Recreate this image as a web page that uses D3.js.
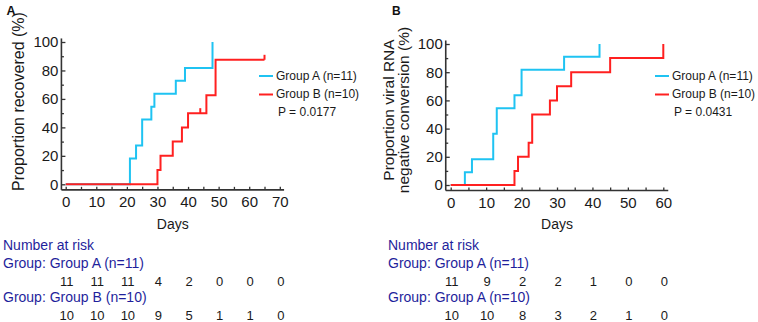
<!DOCTYPE html>
<html>
<head>
<meta charset="utf-8">
<script src="https://cdn.jsdelivr.net/npm/d3@7"></script>
<style>
  body { margin: 0; background: #fff; }
  svg { display: block; font-family: "Liberation Sans", Arial, sans-serif; }
</style>
</head>
<body>
<svg id="chart" width="758" height="322"></svg>
<script>
//* data

var groupNames = ["Group A (n=11)", "Group B (n=10)"]
var pLabels = ["P = 0.0177", "P = 0.0431"]

// panel A: proportion recovered (%)
var recDaysA = [0, 21, 23, 25, 28, 29, 36, 39, 48]
var recPctA = [0, 18.2, 27.3, 45.5, 54.5, 63.6, 72.7, 81.8, 100]
var recDaysB = [0, 30, 31, 35, 38, 40, 46, 49, 65]
var recPctB = [0, 10, 20, 30, 40, 50, 62.5, 87.5, 87.5]
var recCensorDaysB = [44, 65]
var recCensorPctB = [50, 87.5]

// panel B: proportion viral RNA negative conversion (%)
var rnaDaysA = [0, 4, 6, 12, 13, 18, 20, 32, 42]
var rnaPctA = [0, 9.1, 18.2, 36.4, 54.5, 63.6, 81.8, 90.9, 100]
var rnaDaysB = [0, 18, 19, 22, 23, 28, 30, 34, 45, 60]
var rnaPctB = [0, 10, 20, 30, 50, 60, 70, 80, 90, 100]

// number at risk
var riskDaysRec = [0, 10, 20, 30, 40, 50, 60, 70]
var riskRecA = [11, 11, 11, 4, 2, 0, 0, 0]
var riskRecB = [10, 10, 10, 9, 5, 1, 1, 0]
var riskDaysRna = [0, 10, 20, 30, 40, 50, 60]
var riskRnaA = [11, 9, 2, 2, 1, 0, 0]
var riskRnaB = [10, 10, 8, 3, 2, 1, 0]
var riskRowLabels = [
    ["Group: Group A (n=11)", "Group: Group B (n=10)"],
    ["Group: Group A (n=11)", "Group: Group A (n=10)"]
]

var yTicks = d3.range(0, 101, 10)
var colorA = "#1fc3f2"
var colorB = "#ff2020"
var axisColor = "#333"
var textColor = "#1a1a1a"
var riskColor = "#1f1f9c"

var svg = d3.select("#chart")

function zip(days, pct) {
    return days.map(function(d, i) { return [d, pct[i]] })
}

var panels = [
    {
        letter: "A", letterX: 6.5, letterSize: 12.5,
        xMax: 70, xLeft: 65.7, xRight: 279.8, yBottom: 184.3, yTop: 42,
        title: ["Proportion recovered (%)"], titleX: 24, titleY: 101.5, titleSize: 16,
        curves: [zip(recDaysA, recPctA), zip(recDaysB, recPctB)],
        censor: zip(recCensorDaysB, recCensorPctB),
        legendX: 259, p: pLabels[0],
        riskDays: riskDaysRec, risk: [riskRecA, riskRecB], riskLabels: riskRowLabels[0], riskX: 3
    },
    {
        letter: "B", letterX: 392, letterSize: 12,
        xMax: 60, xLeft: 450.7, xRight: 663.3, yBottom: 185, yTop: 44,
        title: ["Proportion viral RNA", "negative conversion (%)"], titleX: 409, titleY: 110, titleSize: 15.5,
        curves: [zip(rnaDaysA, rnaPctA), zip(rnaDaysB, rnaPctB)],
        censor: [],
        legendX: 655, p: pLabels[1],
        riskDays: riskDaysRna, risk: [riskRnaA, riskRnaB], riskLabels: riskRowLabels[1], riskX: 388
    }
]

panels.forEach(function(cfg) { DrawPanel(cfg) })

function DrawPanel(cfg) {
    var x = d3.scaleLinear().domain([0, cfg.xMax]).range([cfg.xLeft, cfg.xRight])
    var y = d3.scaleLinear().domain([0, 100]).range([cfg.yBottom, cfg.yTop])
    var axX = x(-1.4), axY = y(-3.9)   //? axes sit a little outside the 0 lines
    var g = svg.append("g")

    g.append("text").text(cfg.letter)
        .attr("x", cfg.letterX).attr("y", 14.5)
        .style("font-weight", "bold").style("font-size", cfg.letterSize + "px").attr("fill", "#111")

    //* y axis, ticks inward, labels every 20
    var yAxis = d3.axisLeft(y).tickValues(yTicks).tickSizeInner(-4).tickSizeOuter(0).tickPadding(3)
        .tickFormat(function(d) { return d % 20 == 0 ? d : "" })
    var gy = g.append("g").attr("transform", "translate(" + axX + ",0)").call(yAxis)
    gy.select(".domain").remove()
    gy.selectAll(".tick line").attr("stroke", axisColor).attr("stroke-width", 1.3)
        .attr("x2", function(d) { return d % 20 == 0 ? 4 : 2.5 })
    gy.selectAll(".tick text").style("font-size", "15px").attr("fill", textColor)
    g.append("line").attr("x1", axX).attr("x2", axX).attr("y1", axY).attr("y2", y(102.5))
        .attr("stroke", axisColor).attr("stroke-width", 1.6)

    //* x axis, minor ticks every 5
    var xAxis = d3.axisBottom(x).tickValues(d3.range(0, cfg.xMax + 1, 5)).tickSizeInner(-3).tickSizeOuter(0).tickPadding(6.5)
        .tickFormat(function(d) { return d % 10 == 0 ? d : "" })
    var gx = g.append("g").attr("transform", "translate(0," + axY + ")").call(xAxis)
    gx.select(".domain").remove()
    gx.selectAll(".tick line").attr("stroke", axisColor).attr("stroke-width", 1.3)
    gx.selectAll(".tick text").style("font-size", "15px").attr("fill", textColor)
    g.append("line").attr("x1", axX).attr("x2", x(cfg.xMax + 1.4)).attr("y1", axY).attr("y2", axY)
        .attr("stroke", axisColor).attr("stroke-width", 1.6)

    g.append("text").text("Days")
        .attr("x", x(cfg.xMax / 2)).attr("y", 229).attr("text-anchor", "middle")
        .style("font-size", "14px").attr("fill", textColor)

    //* y title (rotated)
    var title = g.append("text")
        .attr("transform", "translate(" + cfg.titleX + "," + cfg.titleY + ") rotate(-90)")
        .attr("text-anchor", "middle").style("font-size", cfg.titleSize + "px").attr("fill", textColor)
    cfg.title.forEach(function(t, i) {
        title.append("tspan").text(t).attr("x", 0)
            .attr("y", (i - (cfg.title.length - 1)) * 15.5)
    })

    //* step curves, B drawn last so it covers A on the 0 line
    var line = d3.line().x(function(d) { return x(d[0]) }).y(function(d) { return y(d[1]) })
        .curve(d3.curveStepAfter)
    var colors = [colorA, colorB]
    cfg.curves.forEach(function(c, k) {
        g.append("path").datum(c).attr("d", line)
            .attr("fill", "none").attr("stroke", colors[k]).attr("stroke-width", 2)
    })
    g.selectAll(".censor").data(cfg.censor).enter().append("line").attr("class", "censor")
        .attr("x1", function(d) { return x(d[0]) }).attr("x2", function(d) { return x(d[0]) })
        .attr("y1", function(d) { return y(d[1]) }).attr("y2", function(d) { return y(d[1] + 3.5) })
        .attr("stroke", colorB).attr("stroke-width", 2)

    //* legend
    groupNames.forEach(function(name, i) {
        var ly = 76 + i * 18.5
        g.append("line").attr("x1", cfg.legendX).attr("x2", cfg.legendX + 14).attr("y1", ly).attr("y2", ly)
            .attr("stroke", colors[i]).attr("stroke-width", 2)
        g.append("text").text(name).attr("x", cfg.legendX + 17).attr("y", ly + 3.8)
            .style("font-size", "12px").attr("fill", textColor)
    })
    g.append("text").text(cfg.p).attr("x", cfg.legendX + 19).attr("y", 115.5)
        .style("font-size", "12px").attr("fill", textColor)

    //* number at risk table
    g.append("text").text("Number at risk").attr("x", cfg.riskX).attr("y", 250)
        .style("font-size", "14px").attr("fill", riskColor)
    cfg.risk.forEach(function(row, i) {
        var base = 268 + i * 34
        g.append("text").text(cfg.riskLabels[i]).attr("x", cfg.riskX).attr("y", base)
            .style("font-size", "14px").attr("fill", riskColor)
        g.selectAll(".risk" + i).data(row).enter().append("text").attr("class", "risk" + i)
            .text(function(d) { return d })
            .attr("x", function(d, j) { return x(cfg.riskDays[j]) + 1 })
            .attr("y", base + 17.5)
            .attr("text-anchor", "middle").style("font-size", "13px").attr("fill", textColor)
    })
}
</script>
</body>
</html>
